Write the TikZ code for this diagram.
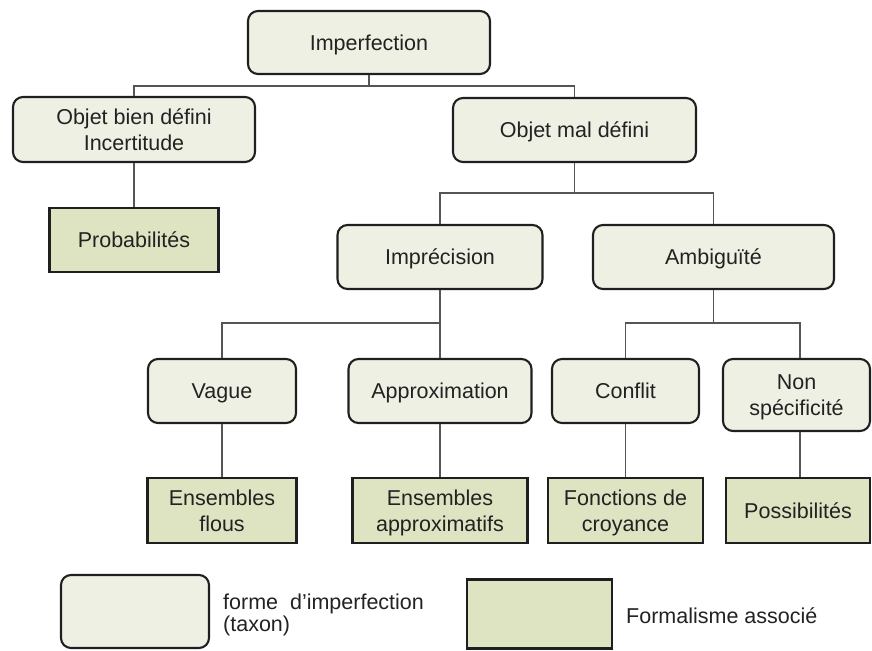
\documentclass[tikz,border=0pt]{standalone}
\usepackage{fontspec}
\setmainfont{Liberation Sans}
\definecolor{taxonfill}{HTML}{EFF0E4}
\definecolor{formfill}{HTML}{DEE4C1}
\definecolor{edgegray}{HTML}{555555}
\definecolor{textgray}{HTML}{222222}
\tikzset{
  taxon/.style={draw=black!88, line width=2.1pt, fill=taxonfill, rounded corners=10pt,
    align=center, text=textgray, font=\fontsize{21.5}{26.5}\selectfont, inner sep=2pt,
    text depth=0pt},
  formalism/.style={draw=black!88, line width=2.1pt, fill=formfill,
    align=center, text=textgray, font=\fontsize{21.5}{26.5}\selectfont, inner sep=2pt,
    text depth=0pt},
  legendtext/.style={anchor=west, align=left, text=textgray, inner sep=0pt,
    font=\fontsize{21.5}{21.5}\selectfont},
  link/.style={draw=edgegray, line width=1.4pt}
}
\begin{document}
\begin{tikzpicture}[x=1pt,y=-1pt]
\useasboundingbox (0,0) rectangle (872,650);

% taxonomy of imperfection forms
\node[taxon, minimum width=242, minimum height=63] (imp) at (369,42.5) {Imperfection};
\node[taxon, minimum width=242, minimum height=65] (bien) at (134,129.5) {Objet bien défini\\Incertitude};
\node[taxon, minimum width=243, minimum height=64] (mal) at (574.5,130) {Objet mal défini};
\node[taxon, minimum width=205, minimum height=64] (impr) at (440,257) {Imprécision};
\node[taxon, minimum width=241, minimum height=64] (ambi) at (713.5,257) {Ambiguïté};
\node[taxon, minimum width=148, minimum height=64] (vague) at (222,391) {Vague};
\node[taxon, minimum width=183, minimum height=64] (approx) at (440,391) {Approximation};
\node[taxon, minimum width=147, minimum height=64] (conflit) at (625.5,391) {Conflit};
\node[taxon, minimum width=147, minimum height=72] (nonspec) at (796.5,395) {Non\\spécificité};

% associated formalisms
\node[formalism, minimum width=169, minimum height=64] (proba) at (134,240) {Probabilités};
\node[formalism, minimum width=149, minimum height=65] (flous) at (222,510.5) {Ensembles\\flous};
\node[formalism, minimum width=175, minimum height=65] (approxf) at (440,510.5) {Ensembles\\approximatifs};
\node[formalism, minimum width=155, minimum height=65] (croy) at (625.5,510.5) {Fonctions de\\croyance};
\node[formalism, minimum width=144, minimum height=65] (poss) at (798,510.5) {Possibilités};

% tree connectors
\coordinate (j1) at (369,86);
\coordinate (j2) at (574.5,193);
\coordinate (j3) at (440,323);
\coordinate (j4) at (713.5,323);
\draw[link] (imp.south) -- (j1);
\draw[link] (bien.north) |- (j1) -| (mal.north);
\draw[link] (mal.south) -- (j2);
\draw[link] (impr.north) |- (j2) -| (ambi.north);
\draw[link] (impr.south) -- (j3);
\draw[link] (vague.north) |- (j3) -| (approx.north);
\draw[link] (ambi.south) -- (j4);
\draw[link] (conflit.north) |- (j4) -| ([xshift=3.5pt]nonspec.north);
\draw[link] (bien.south) -- (proba.north);
\draw[link] (vague.south) -- (flous.north);
\draw[link] (approx.south) -- (approxf.north);
\draw[link] (conflit.south) -- (croy.north);
\draw[link] ([xshift=3.5pt]nonspec.south) -- ([xshift=2pt]poss.north);

% legend
\node[taxon, minimum width=148, minimum height=73] (legtaxon) at (135,611.5) {};
\node[legendtext] (legtaxontext) at (223,615) {forme\ \ d’imperfection\\(taxon)};
\node[formalism, minimum width=145, minimum height=69] (legform) at (539.5,614) {};
\node[legendtext] (legformtext) at (626,616) {Formalisme associé};
\end{tikzpicture}
\end{document}
